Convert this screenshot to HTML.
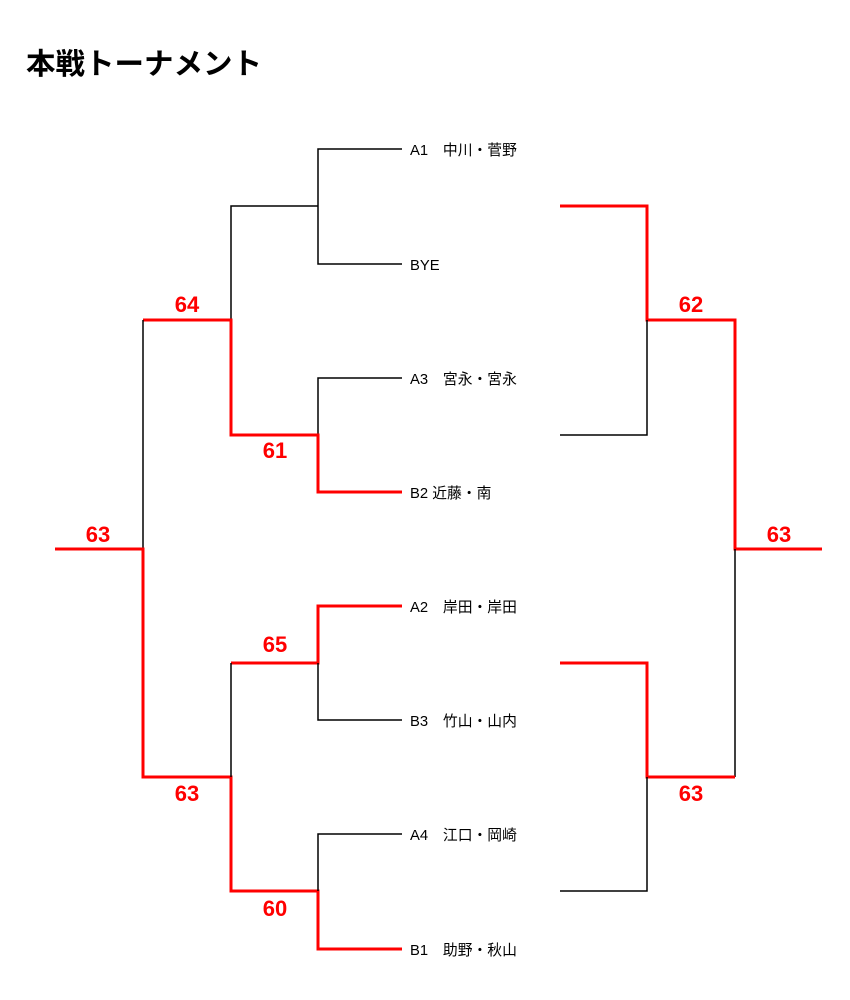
<!DOCTYPE html>
<html><head><meta charset="utf-8"><style>
body{margin:0;background:#fff;width:850px;height:1000px;overflow:hidden}
svg{display:block}
.t{font-family:"Liberation Sans","Noto Sans CJK JP",sans-serif;font-size:14.8px;fill:#000}
.n{font-family:"Liberation Sans",sans-serif;font-size:22px;font-weight:bold;fill:#f00;text-anchor:middle}
.k{stroke:#000;stroke-width:1.5;fill:none}
.r{stroke:#f00;stroke-width:3;fill:none}
</style></head><body>
<svg width="850" height="1000" xmlns="http://www.w3.org/2000/svg">
<text x="26" y="74" style="font-family:'Liberation Sans','Noto Sans CJK JP',sans-serif;font-size:29.5px;font-weight:bold">本戦トーナメント</text>
<path class="k" d="M402 149H318V264H402"/>
<path class="k" d="M318 206H231V320"/>
<path class="k" d="M402 378H318V435"/>
<path class="r" d="M402 492H318V435H231V320H143"/>
<path class="k" d="M143 320V549"/>
<path class="r" d="M55 549H143V777H231V891H318V949H402"/>
<path class="r" d="M402 606H318V663H231"/>
<path class="k" d="M231 663V777"/>
<path class="k" d="M318 663V720H402"/>
<path class="k" d="M402 834H318V891"/>
<path class="r" d="M560 206H647V320H735V549H822"/>
<path class="k" d="M647 320V435H560"/>
<path class="k" d="M735 549V777"/>
<path class="r" d="M560 663H647V777H735"/>
<path class="k" d="M647 777V891H560"/>
<text class="t" x="410" y="155">A1　中川・菅野</text>
<text class="t" x="410" y="270">BYE</text>
<text class="t" x="410" y="384">A3　宮永・宮永</text>
<text class="t" x="410" y="498">B2 近藤・南</text>
<text class="t" x="410" y="612">A2　岸田・岸田</text>
<text class="t" x="410" y="726">B3　竹山・山内</text>
<text class="t" x="410" y="840">A4　江口・岡崎</text>
<text class="t" x="410" y="955">B1　助野・秋山</text>
<text class="n" x="187" y="312">64</text>
<text class="n" x="275" y="458">61</text>
<text class="n" x="98" y="542">63</text>
<text class="n" x="275" y="652">65</text>
<text class="n" x="187" y="801">63</text>
<text class="n" x="275" y="916">60</text>
<text class="n" x="691" y="312">62</text>
<text class="n" x="779" y="542">63</text>
<text class="n" x="691" y="801">63</text>
</svg>
</body></html>
